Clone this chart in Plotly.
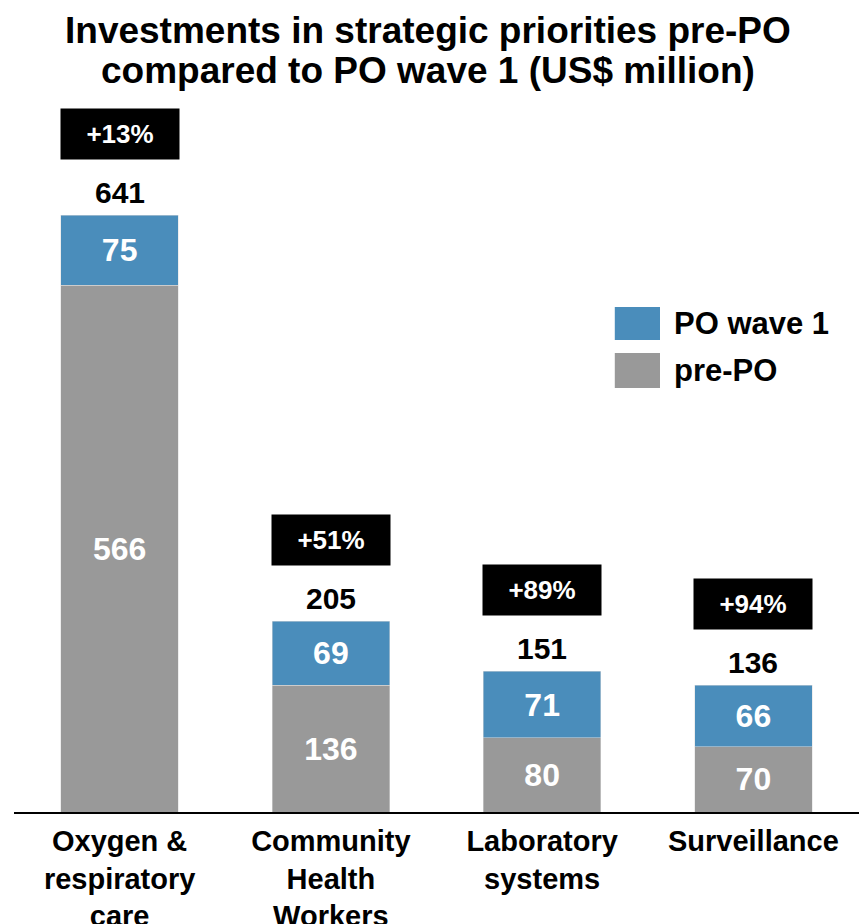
import plotly.graph_objects as go

categories = ["Oxygen &<br>respiratory<br>care", "Community<br>Health<br>Workers",
              "Laboratory<br>systems", "Surveillance"]
pre_po = [566, 136, 80, 70]
po_wave1 = [75, 69, 71, 66]
totals = [641, 205, 151, 136]
increase = ["+13%", "+51%", "+89%", "+94%"]
title_lines = ["Investments in strategic priorities pre-PO",
               "compared to PO wave 1 (US$ million)"]

FONT = "Liberation Sans, Arial, sans-serif"
BLUE = "#4a8dbb"
GREY = "#999999"

fig = go.Figure()

fig.add_trace(go.Bar(
    x=categories, y=pre_po, name="pre-PO",
    marker=dict(color=GREY, line=dict(color="#dddddd", width=0.5)),
    texttemplate="%{y}", textposition="inside", insidetextanchor="middle",
    textfont=dict(family=FONT, size=32, color="white", weight="bold"),
    showlegend=False,
))
fig.add_trace(go.Bar(
    x=categories, y=po_wave1, name="PO wave 1",
    marker=dict(color=BLUE, line=dict(color="#dddddd", width=0.5)),
    texttemplate="%{y}", textposition="inside", insidetextanchor="middle",
    textfont=dict(family=FONT, size=32, color="white", weight="bold"),
    showlegend=False,
))

# totals and increase badges above bars
for cat, tot, inc in zip(categories, totals, increase):
    fig.add_annotation(x=cat, y=tot, text="<b>%d</b>" % tot, showarrow=False,
                       yanchor="bottom", yshift=4,
                       font=dict(family=FONT, size=30, color="black"))
    fig.add_annotation(x=cat, y=tot, text="<b>%s</b>" % inc, showarrow=False,
                       yanchor="bottom", yshift=55, width=118, height=50,
                       borderpad=0, bgcolor="black",
                       font=dict(family=FONT, size=26, color="white"))

# title, two lines placed by hand
for line, ty in zip(title_lines, [1.0983, 1.0421]):
    fig.add_annotation(xref="paper", yref="paper", x=0.49, y=ty,
                       text="<b>%s</b>" % line, showarrow=False,
                       xanchor="center", yanchor="middle",
                       font=dict(family=FONT, size=37, color="black"))

# hand-drawn legend
legend_items = [("PO wave 1", BLUE, 0.7093, 0.6629), ("pre-PO", GREY, 0.6447, 0.5955)]
for label, color, y0, y1 in legend_items:
    fig.add_shape(type="rect", xref="paper", yref="paper",
                  x0=0.711, x1=0.7645, y0=y1, y1=y0,
                  fillcolor=color, line=dict(width=0))
    fig.add_annotation(xref="paper", yref="paper", x=0.7787, y=(y0 + y1) / 2,
                       text="<b>%s</b>" % label, showarrow=False,
                       xanchor="left", yanchor="middle",
                       font=dict(family=FONT, size=31, color="black"))

fig.update_layout(
    barmode="stack",
    bargap=0.443,
    width=859, height=924,
    margin=dict(l=14, r=0, t=100, b=112),
    plot_bgcolor="white", paper_bgcolor="white",
    uniformtext=dict(mode="show", minsize=10),
)
fig.update_xaxes(showline=True, linecolor="black", linewidth=2, automargin=False,
                 ticks="outside", ticklen=2, tickcolor="rgba(0,0,0,0)",
                 tickfont=dict(family=FONT, size=29, color="black", weight="bold"),
                 showgrid=False)
fig.update_yaxes(range=[0, 765], visible=False, showgrid=False, automargin=False)

# drop the default page margin so the figure sits flush in the window
fig.write_html("out.html", config={"displayModeBar": False},
               post_script="document.body.style.margin='0';")
